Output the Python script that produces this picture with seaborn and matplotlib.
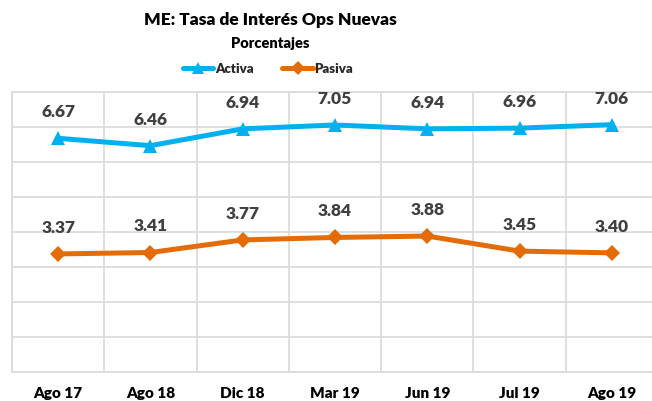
import matplotlib
matplotlib.use("Agg")
import matplotlib.pyplot as plt
from matplotlib.lines import Line2D
import seaborn as sns
import pandas as pd
import numpy as np

categories = ["Ago 17", "Ago 18", "Dic 18", "Mar 19", "Jun 19", "Jul 19", "Ago 19"]
activa = [6.67, 6.46, 6.94, 7.05, 6.94, 6.96, 7.06]
pasiva = [3.37, 3.41, 3.77, 3.84, 3.88, 3.45, 3.40]
series_names = ["Activa", "Pasiva"]
colors = {"Activa": "#00B0F0", "Pasiva": "#E36C09"}
markers = {"Activa": "^", "Pasiva": "D"}

df = pd.DataFrame({
    "x": list(range(len(categories))) * 2,
    "cat": categories * 2,
    "value": activa + pasiva,
    "serie": ["Activa"] * len(categories) + ["Pasiva"] * len(categories),
})

sns.set_theme(style="white")
plt.rcParams["font.family"] = ["Lato", "DejaVu Sans"]

fig = plt.figure(figsize=(6.52, 4.01), dpi=100)
ax = fig.add_axes([12 / 652, 1 - 372 / 401, 646 / 652, (372 - 91.7) / 401])

for name in series_names:
    sub = df[df["serie"] == name]
    sns.lineplot(data=sub, x="x", y="value", ax=ax, color=colors[name],
                 linewidth=3.6, marker=markers[name],
                 markersize=10 if name == "Activa" else 8.5,
                 markeredgewidth=0, legend=False)
    for xi, v in zip(sub["x"], sub["value"]):
        ax.annotate(f"{v:.2f}", (xi, v), xytext=(0, 13), textcoords="offset points",
                    ha="center", va="bottom", fontsize=12.5, fontweight="heavy",
                    color="#404040")

ax.set_xlim(-0.5, len(categories) - 0.5)
ax.set_ylim(0, 8)
ax.set_yticks(np.arange(0, 9, 1))
ax.set_yticklabels([])
ax.tick_params(axis="y", length=0)
ax.set_xticks(range(len(categories)))
ax.set_xticklabels(categories, fontsize=11, fontweight="heavy", color="black")
ax.set_xticks(np.arange(-0.5, len(categories), 1), minor=True)
ax.tick_params(axis="x", which="both", length=0, pad=11)
ax.grid(True, which="major", axis="y", color="#D9D9D9", linewidth=1.2)
ax.grid(True, which="minor", axis="x", color="#D9D9D9", linewidth=1.2)
ax.grid(False, which="major", axis="x")
ax.set_xlabel("")
ax.set_ylabel("")
for s in ax.spines.values():
    s.set_color("#D9D9D9")
    s.set_linewidth(1.2)

fig.text(270 / 652, 1 - 20 / 401, "ME: Tasa de Interés Ops Nuevas", ha="center", va="center",
         fontsize=12.5, fontweight="heavy", color="black")
fig.text(270 / 652, 1 - 43 / 401, "Porcentajes", ha="center", va="center",
         fontsize=10.5, fontweight="heavy", color="black")

handles = [Line2D([0], [0], color=colors[n], linewidth=3.6, marker=markers[n],
                  markersize=8 if n == "Activa" else 7, markeredgewidth=0) for n in series_names]
fig.legend(handles, series_names, loc="center", bbox_to_anchor=(268 / 652, 1 - 69 / 401),
           ncol=2, frameon=False, handlelength=2.3, handletextpad=0.1, columnspacing=2.2,
           prop={"size": 9.5, "weight": "heavy"})

fig.savefig("out.png", dpi=100)
